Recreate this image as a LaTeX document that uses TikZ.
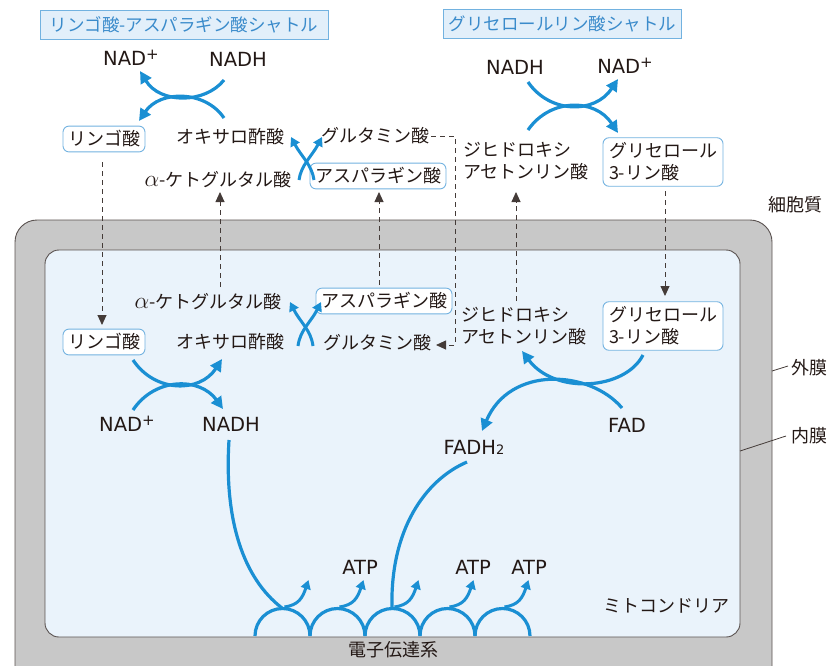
\documentclass[tikz,border=0pt]{standalone}
\usepackage{fontspec}
\setmainfont{DejaVu Sans}
\newfontfamily\jp{Noto Sans CJK JP}
\usetikzlibrary{arrows.meta}
\definecolor{arrowblue}{HTML}{1A8FD3}
\definecolor{boxblue}{HTML}{72B2E0}
\definecolor{titlefill}{HTML}{E2EFFA}
\definecolor{titletext}{HTML}{3A8BCB}
\definecolor{innerfill}{HTML}{EAF3FB}
\definecolor{memb}{HTML}{C8C8C8}
\definecolor{txt}{HTML}{231815}
\newcommand{\plussup}{\raisebox{0.55ex}{\fontsize{15}{15}\selectfont+}}
\newcommand{\myalpha}{\scalebox{1.35}{$\alpha$}}
\begin{document}
\begin{tikzpicture}[x=1pt,y=-1pt,
  lbl/.style={font=\fontsize{19.5}{21}\selectfont, text=txt, inner sep=0pt},
  jlbl/.style={font=\jp\fontsize{18}{22}\selectfont, text=txt, inner sep=0pt},
  rbox/.style={jlbl, draw=boxblue, line width=0.9pt, fill=white, rounded corners=6pt, inner xsep=5pt, inner ysep=4.5pt},
  titlebox/.style={font=\jp\fontsize{17.5}{20}\selectfont, text=titletext, draw=boxblue, fill=titlefill, line width=0.9pt, inner xsep=5pt, inner ysep=4pt},
  barrow/.style={draw=arrowblue, line width=3.2pt, -{Triangle[length=12pt,width=12pt]}},
  sarrow/.style={draw=arrowblue, line width=3pt, -{Triangle[length=9pt,width=10pt]}},
  bline/.style={draw=arrowblue, line width=3.2pt},
  dline/.style={draw=txt!85, line width=0.9pt, dash pattern=on 5pt off 4pt, -{Triangle[length=10pt,width=9pt]}},
  pline/.style={draw=txt!85, line width=0.8pt}
]
\useasboundingbox (0,0) rectangle (832,665);
\clip (0,0) rectangle (832,665);

% membranes
\draw[fill=memb, draw=txt!75, line width=0.9pt, rounded corners=22pt] (15,220) rectangle (772,720);
\draw[fill=innerfill, draw=txt!75, line width=0.9pt, rounded corners=14pt] (45,250) rectangle (740,637);

% titles
\node[titlebox, minimum width=288pt, minimum height=29pt] (title1) at (184,24.5) {リンゴ酸-アスパラギン酸シャトル};
\node[titlebox, minimum width=231pt, minimum height=29pt] (title2) at (562.5,23.5) {グリセロールリン酸シャトル};

% cytosol labels
\node[lbl] (tNADp) at (131,58) {NAD\plussup};
\node[lbl] (tNADH) at (238,59) {NADH};
\node[rbox] (tMal) at (104,139) {リンゴ酸};
\node[jlbl] (tOAA) at (230,137) {オキサロ酢酸};
\node[jlbl] (tGlu) at (375,136) {グルタミン酸};
\node[jlbl] (tAKG) at (218,180) {\myalpha-ケトグルタル酸};
\node[rbox] (tAsp) at (378,176) {アスパラギン酸};
\node[lbl] (rNADH) at (515,67) {NADH};
\node[lbl] (rNADp) at (625,66) {NAD\plussup};
\node[jlbl, align=left] (tDHAP) at (526,161) {ジヒドロキシ\\アセトンリン酸};
\node[rbox, align=left, inner xsep=6pt, inner ysep=5pt] (tG3P) at (663,162) {グリセロール\\3-リン酸};
\node[jlbl] (cyto) at (795,205) {細胞質};

% mitochondrial labels
\node[jlbl] (iAKG) at (208,302) {\myalpha-ケトグルタル酸};
\node[rbox] (iAsp) at (384,301) {アスパラギン酸};
\node[rbox] (iMal) at (104,342) {リンゴ酸};
\node[jlbl] (iOAA) at (230,342) {オキサロ酢酸};
\node[jlbl] (iGlu) at (377,343) {グルタミン酸};
\node[lbl] (iNADp) at (127,424) {NAD\plussup};
\node[lbl] (iNADH) at (231,424) {NADH};
\node[jlbl, align=left] (iDHAP) at (524,326) {ジヒドロキシ\\アセトンリン酸};
\node[rbox, align=left, inner xsep=6pt, inner ysep=5pt] (iG3P) at (663,326) {グリセロール\\3-リン酸};
\node[lbl] (FAD) at (627,425) {FAD};
\node[lbl] (FADH) at (474,447) {FADH{\fontsize{13}{13}\selectfont 2}};
\node[lbl] (atp1) at (360,567) {ATP};
\node[lbl] (atp2) at (473,567) {ATP};
\node[lbl] (atp3) at (529,567) {ATP};
\node[jlbl] (mito) at (666,606) {ミトコンドリア};
\node[jlbl] (etc) at (393,650) {電子伝達系};
\node[jlbl] (outer) at (809,368) {外膜};
\node[jlbl] (innerlbl) at (809,436) {内膜};
\draw[pline] (772,371) -- (788,366);
\draw[pline] (740,451) -- (786,436);

% dashed transports
\draw[dline] (102,162) -- (102,325);
\draw[dline] (220,287) -- (220,192);
\draw[dline] (379,285) -- (379,192);
\draw[dline] (431,136) -- (455,136) -- (455,345) -- (436,345);
\draw[dline] (516,301) -- (516,192);
\draw[dline] (665,191) -- (665,296);

% top-left cycle
\draw[barrow] (224,80) .. controls (205,104) and (160,104) .. (140,71);
\draw[barrow] (224,118) .. controls (205,90) and (160,90) .. (139,121);
% top X
\draw[sarrow] (299,180) .. controls (301,165) and (312,156) .. (322,137);
\draw[sarrow] (314,180) .. controls (312,165) and (301,156) .. (291,137);

% top-right cycle
\draw[barrow] (528,82) .. controls (550,114) and (595,114) .. (618,79);
\draw[barrow] (528,130) .. controls (550,98) and (595,98) .. (618,133);

% inner-left cycle
\draw[barrow] (133,360) .. controls (155,393) and (200,393) .. (222,359);
\draw[barrow] (133,410) .. controls (155,377) and (200,377) .. (223,409);
% inner X
\draw[sarrow] (298,346) .. controls (300,330) and (311,322) .. (321,302);
\draw[sarrow] (313,346) .. controls (311,330) and (300,322) .. (290,302);

% inner-right cycle
\draw[barrow] (643,355) .. controls (625,390) and (555,395) .. (522,351);
\draw[barrow] (622,408) .. controls (590,370) and (510,365) .. (482,431);

% electron transport chain
\foreach \cx in {282.5,337.5,392.5,447.5,502.5} {
  \draw[bline] (\cx-27.5,636) arc[start angle=180, end angle=360, radius=27.5];
  \draw[sarrow] (\cx+2,607) .. controls (\cx+16,605) and (\cx+20,598) .. (\cx+26,580);
}
\draw[bline] (229,440) .. controls (224,520) and (243,578) .. (282,608);
\draw[bline] (467,462) .. controls (425,480) and (390,530) .. (392,608);
\end{tikzpicture}
\end{document}
